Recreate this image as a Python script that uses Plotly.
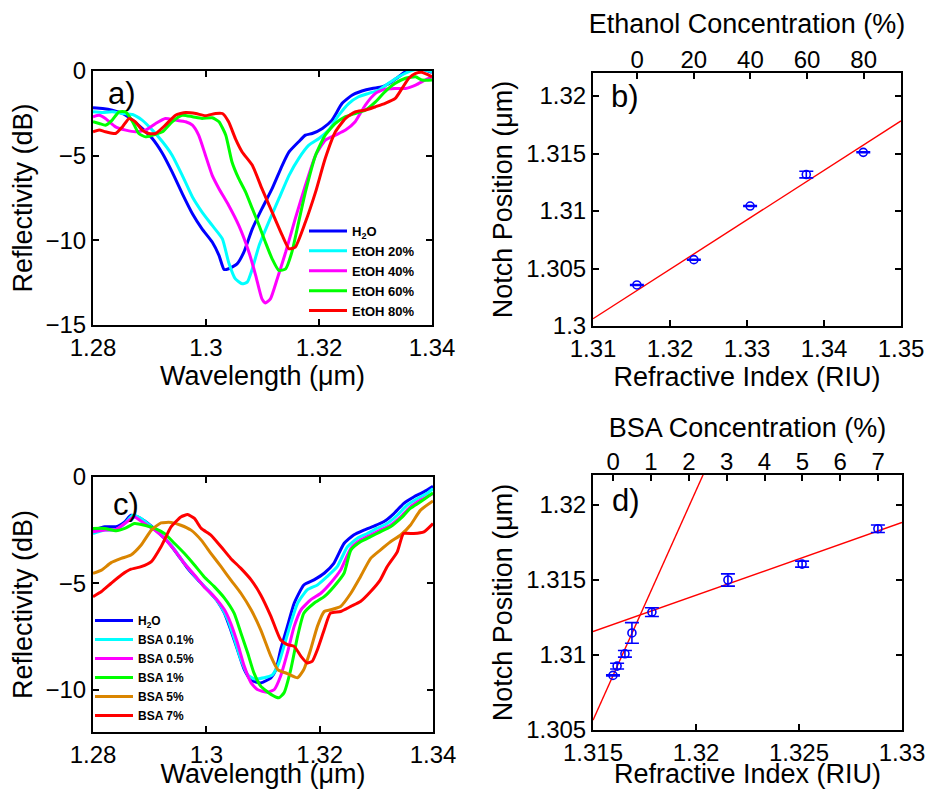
import plotly.graph_objects as go

FONT = "Liberation Sans, Arial, Helvetica, sans-serif"

# ---------------- Panel a: ethanol spectra (wavelength um, reflectivity dB) -------------
a_h2o_wl = [1.2800,1.2817,1.2834,1.2852,1.2870,1.2887,1.2905,1.2923,1.2940,1.2958,1.2976,1.2993,1.3011,1.3023,1.3032,1.3040,1.3055,1.3067,1.3082,1.3099,1.3117,1.3135,1.3147,1.3164,1.3176,1.3188,1.3206,1.3223,1.3241,1.3259,1.3276,1.3294,1.3312,1.3329,1.3341,1.3353,1.3371,1.3388,1.3400]
a_h2o_db = [-2.17,-2.21,-2.31,-2.51,-2.90,-3.39,-3.99,-4.87,-5.96,-7.24,-8.43,-9.32,-10.10,-10.89,-11.72,-11.68,-11.39,-10.70,-9.32,-8.13,-6.95,-5.57,-4.78,-4.18,-3.79,-3.69,-3.39,-2.90,-1.91,-1.42,-1.18,-1.03,-0.93,-0.63,-0.34,-0.04,0.16,0.06,-0.08]

a_e20_wl = [1.2800,1.2817,1.2834,1.2852,1.2870,1.2887,1.2905,1.2923,1.2940,1.2958,1.2976,1.2993,1.3011,1.3029,1.3040,1.3052,1.3064,1.3073,1.3082,1.3094,1.3111,1.3129,1.3147,1.3164,1.3182,1.3200,1.3217,1.3235,1.3253,1.3270,1.3288,1.3306,1.3323,1.3341,1.3359,1.3376,1.3400]
a_e20_db = [-2.41,-2.45,-2.41,-2.51,-2.57,-2.90,-3.49,-4.18,-4.97,-6.16,-7.44,-8.33,-9.12,-9.91,-11.29,-12.28,-12.57,-12.47,-11.68,-10.30,-8.92,-7.54,-6.16,-5.17,-4.38,-3.99,-3.49,-2.61,-1.91,-1.52,-1.32,-1.12,-0.73,-0.34,-0.04,0.12,-0.04]

a_e40_wl = [1.2800,1.2811,1.2822,1.2840,1.2858,1.2875,1.2893,1.2911,1.2928,1.2946,1.2964,1.2976,1.2987,1.2999,1.3011,1.3023,1.3040,1.3058,1.3076,1.3088,1.3099,1.3105,1.3114,1.3126,1.3141,1.3158,1.3176,1.3194,1.3211,1.3229,1.3247,1.3264,1.3282,1.3300,1.3317,1.3335,1.3353,1.3371,1.3388,1.3400]
a_e40_db = [-2.70,-2.61,-2.80,-3.30,-3.49,-3.59,-3.49,-3.10,-2.80,-2.90,-3.00,-3.20,-3.79,-4.97,-6.16,-6.95,-7.93,-9.12,-10.70,-12.08,-13.46,-13.70,-13.46,-12.28,-10.70,-8.72,-6.75,-4.97,-4.09,-3.79,-3.49,-3.00,-2.01,-1.32,-1.07,-1.03,-1.03,-0.83,-0.53,-0.34]

a_e60_wl = [1.2800,1.2811,1.2822,1.2834,1.2846,1.2858,1.2870,1.2881,1.2893,1.2905,1.2923,1.2940,1.2958,1.2976,1.2993,1.3011,1.3023,1.3035,1.3046,1.3058,1.3070,1.3082,1.3094,1.3105,1.3117,1.3129,1.3141,1.3152,1.3164,1.3176,1.3194,1.3211,1.3229,1.3247,1.3264,1.3282,1.3300,1.3317,1.3335,1.3353,1.3371,1.3382,1.3400]
a_e60_db = [-3.00,-3.10,-3.20,-2.90,-2.41,-2.41,-3.00,-3.69,-3.89,-3.79,-3.59,-3.00,-2.61,-2.70,-2.80,-2.76,-3.00,-3.79,-5.37,-6.36,-7.14,-8.13,-9.12,-10.10,-11.09,-11.78,-11.68,-10.70,-8.92,-7.14,-4.97,-3.79,-3.10,-2.70,-2.51,-2.31,-1.82,-1.22,-0.73,-0.43,-0.34,-0.53,-0.53]

a_e80_wl = [1.2800,1.2811,1.2822,1.2840,1.2852,1.2864,1.2875,1.2887,1.2899,1.2911,1.2928,1.2946,1.2964,1.2982,1.2999,1.3017,1.3029,1.3040,1.3052,1.3064,1.3082,1.3099,1.3117,1.3135,1.3147,1.3158,1.3176,1.3194,1.3211,1.3229,1.3247,1.3264,1.3282,1.3300,1.3317,1.3335,1.3347,1.3359,1.3371,1.3382,1.3394,1.3400]
a_e80_db = [-3.59,-3.49,-3.59,-3.69,-3.30,-2.80,-3.00,-3.49,-3.69,-3.69,-3.20,-2.61,-2.45,-2.51,-2.64,-2.51,-2.51,-3.00,-3.99,-4.78,-5.57,-6.95,-8.33,-9.71,-10.50,-10.40,-8.92,-7.14,-5.17,-3.59,-2.80,-2.41,-2.31,-2.11,-1.91,-1.62,-1.03,-0.43,-0.14,-0.08,-0.24,-0.34]

# ---------------- Panel c: BSA spectra ----------------
c_h2o_wl = [1.2800,1.2821,1.2841,1.2856,1.2867,1.2879,1.2897,1.2914,1.2932,1.2950,1.2967,1.2985,1.3002,1.3020,1.3032,1.3043,1.3055,1.3067,1.3079,1.3096,1.3114,1.3123,1.3131,1.3143,1.3155,1.3172,1.3190,1.3208,1.3225,1.3243,1.3260,1.3278,1.3296,1.3313,1.3331,1.3348,1.3366,1.3384,1.3400]
c_h2o_db = [-2.50,-2.34,-2.34,-2.11,-1.80,-1.88,-2.19,-2.58,-3.05,-3.67,-4.30,-4.84,-5.31,-5.86,-6.41,-7.19,-8.13,-9.06,-9.56,-9.69,-9.45,-9.06,-8.13,-7.03,-5.94,-5.08,-4.84,-4.53,-4.06,-3.13,-2.73,-2.50,-2.31,-2.11,-1.72,-1.25,-0.94,-0.70,-0.44]

c_b01_wl = [1.2800,1.2821,1.2841,1.2856,1.2870,1.2885,1.2903,1.2920,1.2938,1.2955,1.2973,1.2991,1.3008,1.3026,1.3038,1.3049,1.3061,1.3073,1.3084,1.3102,1.3117,1.3128,1.3137,1.3149,1.3161,1.3178,1.3196,1.3213,1.3231,1.3249,1.3266,1.3284,1.3301,1.3319,1.3337,1.3354,1.3372,1.3389,1.3400]
c_b01_db = [-2.66,-2.50,-2.47,-2.19,-1.80,-1.95,-2.34,-2.73,-3.20,-3.83,-4.45,-5.00,-5.47,-6.09,-6.72,-7.58,-8.59,-9.30,-9.50,-9.45,-9.30,-8.75,-7.97,-6.88,-5.94,-5.31,-5.08,-4.69,-4.22,-3.28,-2.89,-2.66,-2.42,-2.19,-1.80,-1.33,-1.02,-0.78,-0.55]

c_b05_wl = [1.2800,1.2821,1.2841,1.2856,1.2873,1.2891,1.2909,1.2926,1.2944,1.2961,1.2979,1.2996,1.3014,1.3032,1.3043,1.3055,1.3067,1.3079,1.3090,1.3108,1.3120,1.3131,1.3143,1.3155,1.3167,1.3184,1.3202,1.3219,1.3237,1.3255,1.3272,1.3290,1.3307,1.3325,1.3343,1.3360,1.3378,1.3400]
c_b05_db = [-2.58,-2.50,-2.47,-2.19,-1.88,-2.19,-2.50,-2.89,-3.44,-4.06,-4.61,-5.16,-5.63,-6.25,-6.88,-7.81,-8.91,-9.69,-10.00,-10.13,-10.00,-9.38,-8.28,-7.03,-6.25,-5.78,-5.47,-5.00,-4.38,-3.36,-2.97,-2.73,-2.50,-2.27,-1.88,-1.41,-1.09,-0.78]

c_b1_wl = [1.2800,1.2821,1.2841,1.2856,1.2873,1.2891,1.2909,1.2926,1.2944,1.2961,1.2979,1.2996,1.3014,1.3032,1.3049,1.3061,1.3073,1.3084,1.3096,1.3114,1.3128,1.3137,1.3149,1.3161,1.3172,1.3190,1.3208,1.3225,1.3243,1.3255,1.3272,1.3290,1.3307,1.3325,1.3343,1.3360,1.3378,1.3400]
c_b1_db = [-2.42,-2.42,-2.53,-2.42,-2.19,-2.27,-2.42,-2.66,-3.13,-3.59,-4.14,-4.69,-5.16,-5.70,-6.41,-7.34,-8.28,-9.22,-9.84,-10.23,-10.39,-10.16,-9.06,-7.50,-6.41,-5.94,-5.63,-5.16,-4.53,-3.44,-3.05,-2.81,-2.58,-2.34,-1.95,-1.48,-1.17,-0.75]

c_b5_wl = [1.2800,1.2815,1.2832,1.2850,1.2867,1.2885,1.2903,1.2920,1.2938,1.2955,1.2973,1.2991,1.3008,1.3026,1.3043,1.3061,1.3079,1.3096,1.3114,1.3126,1.3143,1.3161,1.3172,1.3184,1.3196,1.3208,1.3219,1.3237,1.3255,1.3272,1.3290,1.3307,1.3325,1.3343,1.3360,1.3378,1.3400]
c_b5_db = [-4.53,-4.38,-4.03,-3.83,-3.67,-3.20,-2.50,-2.16,-2.14,-2.27,-2.50,-2.97,-3.59,-4.22,-4.84,-5.47,-6.25,-7.19,-8.44,-9.06,-9.25,-9.45,-9.06,-8.13,-7.03,-6.33,-6.25,-6.09,-5.47,-4.69,-3.83,-3.44,-3.05,-2.73,-2.27,-1.56,-1.13]

c_b7_wl = [1.2800,1.2815,1.2832,1.2850,1.2867,1.2885,1.2903,1.2920,1.2938,1.2955,1.2967,1.2979,1.2991,1.3008,1.3026,1.3043,1.3061,1.3079,1.3096,1.3114,1.3131,1.3143,1.3155,1.3167,1.3178,1.3187,1.3196,1.3208,1.3219,1.3237,1.3255,1.3272,1.3290,1.3307,1.3319,1.3337,1.3348,1.3366,1.3384,1.3400]
c_b7_db = [-5.63,-5.39,-5.00,-4.61,-4.34,-4.22,-3.98,-3.28,-2.34,-1.88,-1.77,-1.95,-2.42,-2.73,-3.28,-3.83,-4.30,-4.84,-5.55,-6.56,-7.66,-7.89,-7.97,-8.44,-8.75,-8.67,-8.13,-7.19,-6.41,-6.33,-6.09,-5.86,-5.39,-4.84,-4.22,-3.52,-2.66,-2.66,-2.58,-2.19]

# ---------------- Panel b: notch vs refractive index (ethanol) ----------------
b_ri = [1.3157, 1.3231, 1.3304, 1.3377, 1.3451]
b_notch = [1.30357, 1.30577, 1.31043, 1.31317, 1.31510]
b_err = [0.00004, 0.00004, 0.00004, 0.00029, 0.00004]
b_conc = [0, 20, 40, 60, 80]
b_fit_slope, b_fit_icpt = 0.43, 0.73733
b_fit_span = [1.31, 1.35]

# ---------------- Panel d: notch vs refractive index (BSA) ----------------
d_ri = [1.31597, 1.31617, 1.31655, 1.31689, 1.31786, 1.32155, 1.32515, 1.32883]
d_notch = [1.30864, 1.30926, 1.31008, 1.31147, 1.31286, 1.31500, 1.31606, 1.31842]
d_err = [0.00004, 0.00019, 0.00022, 0.00069, 0.00029, 0.00041, 0.00020, 0.00025]
d_conc = [0, 0.1, 0.3, 0.5, 1, 3, 5, 7]
d_fit1_slope, d_fit1_icpt = 3.06, -2.71824
d_fit1_span = [1.315, 1.3206]
d_fit2_slope, d_fit2_icpt = 0.485, 0.673785
d_fit2_span = [1.315, 1.33]

COL_BLUE, COL_CYAN, COL_MAG, COL_GREEN, COL_RED, COL_ORANGE = "#0000FF", "#00FFFF", "#FF00FF", "#00FF00", "#FF0000", "#DA8500"

fig = go.Figure()

a_series = [("H<sub>2</sub>O", a_h2o_wl, a_h2o_db, COL_BLUE),
            ("EtOH 20%", a_e20_wl, a_e20_db, COL_CYAN),
            ("EtOH 40%", a_e40_wl, a_e40_db, COL_MAG),
            ("EtOH 60%", a_e60_wl, a_e60_db, COL_GREEN),
            ("EtOH 80%", a_e80_wl, a_e80_db, COL_RED)]
for name, wl, db, col in a_series:
    fig.add_trace(go.Scatter(x=wl, y=db, mode="lines", name=name, xaxis="x", yaxis="y",
                             line=dict(color=col, width=3, shape="spline", smoothing=0.5),
                             legend="legend"))

c_series = [("H<sub>2</sub>O", c_h2o_wl, c_h2o_db, COL_BLUE),
            ("BSA 0.1%", c_b01_wl, c_b01_db, COL_CYAN),
            ("BSA 0.5%", c_b05_wl, c_b05_db, COL_MAG),
            ("BSA 1%", c_b1_wl, c_b1_db, COL_GREEN),
            ("BSA 5%", c_b5_wl, c_b5_db, COL_ORANGE),
            ("BSA 7%", c_b7_wl, c_b7_db, COL_RED)]
for name, wl, db, col in c_series:
    fig.add_trace(go.Scatter(x=wl, y=db, mode="lines", name=name, xaxis="x4", yaxis="y4",
                             line=dict(color=col, width=3, shape="spline", smoothing=0.5),
                             legend="legend2"))


def fit_line(slope, icpt, span):
    xs = list(span)
    return xs, [slope * x + icpt for x in xs]


# panel b
fx, fy = fit_line(b_fit_slope, b_fit_icpt, b_fit_span)
fig.add_trace(go.Scatter(x=fx, y=fy, mode="lines", line=dict(color=COL_RED, width=1.4),
                         xaxis="x2", yaxis="y2", showlegend=False))
fig.add_trace(go.Scatter(x=b_ri, y=b_notch, mode="markers", xaxis="x2", yaxis="y2", showlegend=False,
                         marker=dict(symbol="circle-open", size=8, color=COL_BLUE, line=dict(width=1.6)),
                         error_y=dict(type="data", array=b_err, color=COL_BLUE, thickness=1.6, width=7)))
fig.add_trace(go.Scatter(x=b_conc, y=b_notch, mode="markers", xaxis="x3", yaxis="y2", showlegend=False,
                         marker=dict(opacity=0), hoverinfo="skip"))

# panel d
for s, i, sp in [(d_fit1_slope, d_fit1_icpt, d_fit1_span), (d_fit2_slope, d_fit2_icpt, d_fit2_span)]:
    fx, fy = fit_line(s, i, sp)
    fig.add_trace(go.Scatter(x=fx, y=fy, mode="lines", line=dict(color=COL_RED, width=1.4),
                             xaxis="x5", yaxis="y5", showlegend=False))
fig.add_trace(go.Scatter(x=d_ri, y=d_notch, mode="markers", xaxis="x5", yaxis="y5", showlegend=False,
                         marker=dict(symbol="circle-open", size=8, color=COL_BLUE, line=dict(width=1.6)),
                         error_y=dict(type="data", array=d_err, color=COL_BLUE, thickness=1.6, width=7)))
fig.add_trace(go.Scatter(x=d_conc, y=d_notch, mode="markers", xaxis="x6", yaxis="y5", showlegend=False,
                         marker=dict(opacity=0), hoverinfo="skip"))

W, H = 932, 789


def px_x(a, b):
    return [a / W, b / W]


def px_y(top, bottom):
    return [1 - bottom / H, 1 - top / H]


base = dict(showline=True, linecolor="black", linewidth=2, ticks="inside", ticklen=6, tickwidth=1.5,
            tickcolor="black", showgrid=False, zeroline=False,
            tickfont=dict(size=24, color="black", family=FONT))
tfont = dict(size=27, color="black", family=FONT)

fig.update_layout(
    width=W, height=H, margin=dict(l=0, r=0, t=0, b=0),
    paper_bgcolor="white", plot_bgcolor="white", template="none",
    font=dict(family=FONT, color="black"),
    xaxis=dict(base, domain=px_x(93, 432), range=[1.28, 1.34], anchor="y", mirror="ticks",
               tickvals=[1.28, 1.30, 1.32, 1.34], ticktext=["1.28", "1.3", "1.32", "1.34"],
               title=dict(text="Wavelength (μm)", font=tfont, standoff=0)),
    yaxis=dict(base, domain=px_y(71, 325), range=[-15, 0], anchor="x", mirror="ticks",
               tickvals=[0, -5, -10, -15],
               title=dict(text="Reflectivity (dB)", font=tfont, standoff=5)),
    xaxis2=dict(base, domain=px_x(593, 901), range=[1.31, 1.35], anchor="y2", mirror=True,
                tickvals=[1.31, 1.32, 1.33, 1.34, 1.35], ticktext=["1.31", "1.32", "1.33", "1.34", "1.35"],
                title=dict(text="Refractive Index (RIU)", font=tfont, standoff=0)),
    yaxis2=dict(base, domain=px_y(73, 326), range=[1.30, 1.322], anchor="x2", mirror="ticks",
                tickvals=[1.30, 1.305, 1.31, 1.315, 1.32], ticktext=["1.3", "1.305", "1.31", "1.315", "1.32"],
                title=dict(text="Notch Position (μm)", font=tfont, standoff=6)),
    xaxis3=dict(base, overlaying="x2", side="top", anchor="y2", range=[-15.6, 93.2],
                tickvals=[0, 20, 40, 60, 80], ticklabelstandoff=-7,
                title=dict(text="Ethanol Concentration (%)", font=tfont, standoff=5)),
    xaxis4=dict(base, domain=px_x(93, 433), range=[1.28, 1.34], anchor="y4", mirror="ticks",
                tickvals=[1.28, 1.30, 1.32, 1.34], ticktext=["1.28", "1.3", "1.32", "1.34"],
                title=dict(text="Wavelength (μm)", font=tfont, standoff=0)),
    yaxis4=dict(base, domain=px_y(477, 732), range=[-12, 0], anchor="x4", mirror="ticks",
                tickvals=[0, -5, -10],
                title=dict(text="Reflectivity (dB)", font=tfont, standoff=5)),
    xaxis5=dict(base, domain=px_x(593, 902), range=[1.315, 1.33], anchor="y5", mirror=True,
                tickvals=[1.315, 1.32, 1.325, 1.33], ticktext=["1.315", "1.32", "1.325", "1.33"],
                title=dict(text="Refractive Index (RIU)", font=tfont, standoff=0)),
    yaxis5=dict(base, domain=px_y(475, 730), range=[1.305, 1.322], anchor="x5", mirror="ticks",
                tickvals=[1.305, 1.31, 1.315, 1.32], ticktext=["1.305", "1.31", "1.315", "1.32"],
                title=dict(text="Notch Position (μm)", font=tfont, standoff=6)),
    xaxis6=dict(base, overlaying="x5", side="top", anchor="y5", range=[-0.53, 7.63],
                tickvals=[0, 1, 2, 3, 4, 5, 6, 7], ticklabelstandoff=-7,
                title=dict(text="BSA Concentration (%)", font=tfont, standoff=3)),
    legend=dict(x=304 / W, y=1 - 216 / H, xanchor="left", yanchor="top", bgcolor="rgba(0,0,0,0)",
                borderwidth=0, itemwidth=38,
                font=dict(size=13, family=FONT, color="black", weight="bold")),
    legend2=dict(x=90 / W, y=1 - 606 / H, xanchor="left", yanchor="top", bgcolor="rgba(0,0,0,0)",
                 borderwidth=0, itemwidth=38,
                 font=dict(size=12, family=FONT, color="black", weight="bold")),
    showlegend=True,
)

labels = [("a)", 122, 93), ("b)", 625, 96), ("c)", 126, 504), ("d)", 626, 500)]
for txt, x, y in labels:
    fig.add_annotation(text=txt, x=x / W, y=1 - y / H, xref="paper", yref="paper", showarrow=False,
                       xanchor="center", yanchor="middle", font=dict(size=31, family=FONT, color="black"))

fig.write_html("out.html", config={"displayModeBar": False},
               post_script="document.body.style.margin='0';")
